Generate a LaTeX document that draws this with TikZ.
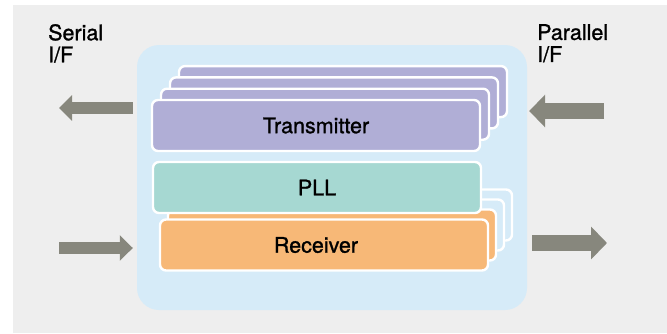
\documentclass[tikz,border=0pt]{standalone}
\usepackage{fontspec}
\setmainfont{TeX Gyre Heros}[BoldFont={TeX Gyre Heros}, BoldFeatures={FakeBold=1.2}]
\usetikzlibrary{arrows.meta}
\definecolor{cbg}{HTML}{EEEEEE}
\definecolor{cchip}{HTML}{D6EBF8}
\definecolor{ctx}{HTML}{B0AED6}
\definecolor{cpll}{HTML}{A6D8D2}
\definecolor{crx}{HTML}{F7B877}
\definecolor{carrow}{HTML}{87877D}
\tikzset{
  every picture/.style={x=1pt, y=-1pt, font=\fontsize{21.5}{22}\selectfont\bfseries},
  blk/.style={draw=white, line width=2.4pt, rounded corners=6pt,
    minimum width=328pt, minimum height=51pt, inner sep=0pt},
  leftarrow/.style={carrow, line width=12pt, -{Triangle[length=13pt,width=25pt]}},
  rightarrow/.style={carrow, line width=16pt, -{Triangle[length=16pt,width=32pt]}},
  iflabel/.style={anchor=north west, align=left, inner sep=0pt},
}

\begin{document}
\begin{tikzpicture}
  \useasboundingbox (0,0) rectangle (667,333);
  \fill[cbg] (13,5) rectangle (667,333);
  \node[iflabel] (serlabel) at (48,24) {Serial\\I/F};
  \node[iflabel] (parlabel) at (537,24) {Parallel\\I/F};
  \node[fill=cchip, rounded corners=22pt, minimum width=390pt,
    minimum height=265pt, inner sep=0pt] (chip) at (332,177.5) {};
  % receiver lanes
  \foreach \k/\c in {3/cchip,2/cchip,1/crx}
    \node[blk, fill=\c] (rx\k) at ({324+8*\k},{245-10*\k}) {};
  \node[blk, fill=crx] (rx) at (324,245) {};
  \node (rxtext) at (316,245) {Receiver};
  % transmitter lanes
  \foreach \k in {3,2,1}
    \node[blk, fill=ctx] (tx\k) at ({316+9*\k},{125.5-11.3*\k}) {};
  \node[blk, fill=ctx] (tx) at (316,125.5) {Transmitter};
  \node[blk, fill=cpll] (pll) at (317,187.5) {PLL};
  % interfaces
  \coordinate (serout) at (59,108);
  \coordinate (serin) at (59,248);
  \coordinate (parin) at (604,111);
  \coordinate (parout) at (607,243);
  \draw[leftarrow] ([xshift=-4pt]chip.west |- serout) -- (serout);
  \draw[leftarrow] (serin) -- ([xshift=-4pt]chip.west |- serin);
  \draw[rightarrow] (parin) -- ([xshift=2pt]chip.east |- parin);
  \draw[rightarrow] ([xshift=5pt]chip.east |- parout) -- (parout);
\end{tikzpicture}
\end{document}
